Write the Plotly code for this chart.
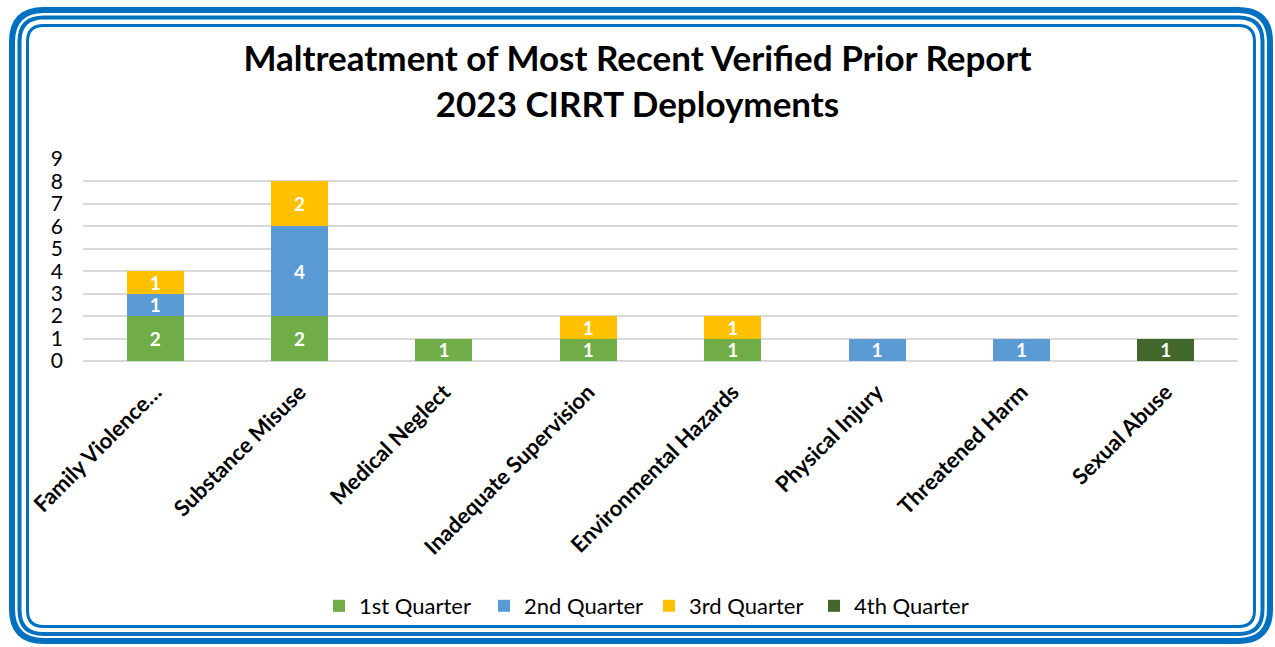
import plotly.graph_objects as go

categories = ["Family Violence…", "Substance Misuse", "Medical Neglect", "Inadequate Supervision",
              "Environmental Hazards", "Physical Injury", "Threatened Harm", "Sexual Abuse"]
q1 = [2, 2, 1, 1, 1, None, None, None]
q2 = [1, 4, None, None, None, 1, 1, None]
q3 = [1, 2, None, 1, 1, None, None, None]
q4 = [None, None, None, None, None, None, None, 1]
series_names = ["1st Quarter", "2nd Quarter", "3rd Quarter", "4th Quarter"]
series_colors = ["#70AD47", "#5B9BD5", "#FFC000", "#43682B"]
y_ticks = list(range(0, 10))

W, H = 1275, 647
L, R, T, B = 83, 37, 159, 286
PW, PH = W - L - R, H - T - B

def px(x):
    return (x - L) / PW

def py(y):
    return (H - B - y) / PH

def rrect(x0, y0, x1, y1, r):
    pts = []
    pts.append(f"M{px(x0 + r)},{py(y0)}")
    pts.append(f"L{px(x1 - r)},{py(y0)}")
    pts.append(f"Q{px(x1)},{py(y0)} {px(x1)},{py(y0 + r)}")
    pts.append(f"L{px(x1)},{py(y1 - r)}")
    pts.append(f"Q{px(x1)},{py(y1)} {px(x1 - r)},{py(y1)}")
    pts.append(f"L{px(x0 + r)},{py(y1)}")
    pts.append(f"Q{px(x0)},{py(y1)} {px(x0)},{py(y1 - r)}")
    pts.append(f"L{px(x0)},{py(y0 + r)}")
    pts.append(f"Q{px(x0)},{py(y0)} {px(x0 + r)},{py(y0)}")
    pts.append("Z")
    return " ".join(pts)

fig = go.Figure()
for name, vals, col in zip(series_names, [q1, q2, q3, q4], series_colors):
    fig.add_trace(go.Bar(
        x=categories, y=vals, name=name, marker_color=col,
        marker_line_width=0,
        texttemplate="%{y}", textposition="inside", insidetextanchor="middle", textangle=0,
        textfont=dict(family="Lato", size=19, color="white", weight="bold"),
    ))

border_color = "#0070C0"
shapes = [
    dict(type="path", xref="paper", yref="paper", path=rrect(12, 10, 1270, 641, 32),
         line=dict(color=border_color, width=6), layer="above"),
    dict(type="path", xref="paper", yref="paper", path=rrect(19.5, 17.5, 1262.5, 634, 24),
         line=dict(color=border_color, width=4), layer="above"),
    dict(type="path", xref="paper", yref="paper", path=rrect(27.5, 25.5, 1254.5, 626.5, 16),
         line=dict(color=border_color, width=3), layer="above"),
]

fig.update_layout(
    width=W, height=H,
    margin=dict(l=L, r=R, t=T, b=B),
    paper_bgcolor="white", plot_bgcolor="white",
    barmode="stack", bargap=0.605,
    uniformtext=dict(minsize=17, mode="show"),
    title=dict(text="<b>Maltreatment of Most Recent Verified Prior Report<br>2023 CIRRT Deployments</b>",
               x=0.5, xref="container", xanchor="center", y=1 - 71 / H, yanchor="top",
               font=dict(family="Lato", size=35, color="black")),
    showlegend=True,
    legend=dict(orientation="h", x=px(319), xanchor="left", xref="paper", y=py(606), yanchor="middle",
                font=dict(family="Lato", size=22, color="black"), traceorder="normal",
                itemwidth=30, entrywidth=120, bgcolor="rgba(0,0,0,0)"),
    shapes=shapes,
    font=dict(family="Lato", color="black"),
)
fig.update_xaxes(tickangle=-45, tickfont=dict(family="Lato", size=22, color="black", weight="bold"),
                 showgrid=False, showline=False, ticks="", automargin=False, ticklabelstandoff=13)
fig.update_yaxes(range=[0, 9], tickvals=y_ticks, showgrid=True, gridcolor="#D9D9D9", gridwidth=2,
                 zeroline=True, zerolinecolor="#D9D9D9", zerolinewidth=2, automargin=False,
                 tickfont=dict(family="Lato", size=21, color="black"), ticklabelstandoff=19)

fig.write_html("out.html", config={"displayModeBar": False},
               post_script="document.body.style.margin='0';document.body.style.overflow='hidden';")
